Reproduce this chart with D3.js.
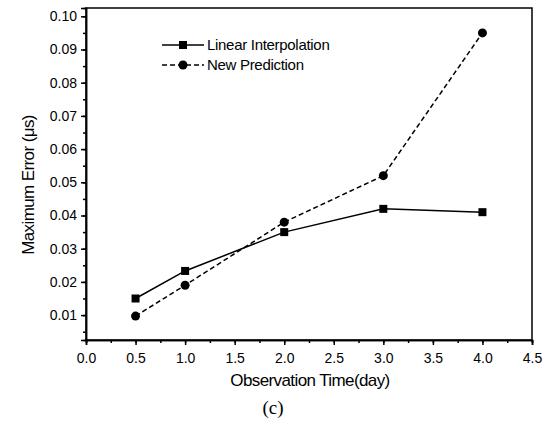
<!DOCTYPE html>
<html>
<head>
<meta charset="utf-8">
<script src="https://cdn.jsdelivr.net/npm/d3@7"></script>
<style>
  body { margin: 0; background: #fff; }
  svg { display: block; }
  .axis path, .axis line { stroke: #000; stroke-width: 1.5; }
  .axis text { font-family: "Liberation Sans", Arial, sans-serif; font-size: 14px; fill: #000; }
  .lbl { font-family: "Liberation Sans", Arial, sans-serif; fill: #000; }
</style>
</head>
<body>
<div id="chart"></div>
<script>
// observation time (day)
var days = [0.5, 1.0, 2.0, 3.0, 4.0];
// maximum error (us)
var linearInterp = [0.015, 0.0233, 0.035, 0.042, 0.041];
var newPrediction = [0.0097, 0.019, 0.038, 0.052, 0.095];

var seriesNames = ["Linear Interpolation", "New Prediction"];
var xTicks = [0.0, 0.5, 1.0, 1.5, 2.0, 2.5, 3.0, 3.5, 4.0, 4.5];
var yTicks = [0.01, 0.02, 0.03, 0.04, 0.05, 0.06, 0.07, 0.08, 0.09, 0.10];

var margin = {left: 86, top: 8, right: 13, bottom: 91};
var W = 545, H = 431;
var width = W - margin.left - margin.right,
    height = H - margin.top - margin.bottom;

var svg = d3.select("#chart").append("svg")
  .attr("width", W)
  .attr("height", H);

var g = svg.append("g")
  .attr("transform", "translate(" + margin.left + "," + margin.top + ")");

var x = d3.scaleLinear().domain([0, 4.5]).range([0, width]);
var y = d3.scaleLinear().domain([0.0025, 0.1025]).range([height, 0]);

// minor ticks
g.append("g")
  .attr("class", "axis")
  .attr("transform", "translate(0," + height + ")")
  .call(d3.axisBottom(x).tickValues(d3.range(0, 4.51, 0.25)).tickSize(3).tickFormat(""));
g.append("g")
  .attr("class", "axis")
  .call(d3.axisLeft(y).tickValues(d3.range(0.005, 0.1026, 0.005)).tickSize(3).tickFormat(""));

// major ticks
g.append("g")
  .attr("class", "axis")
  .attr("transform", "translate(0," + height + ")")
  .call(d3.axisBottom(x).tickValues(xTicks).tickSize(5).tickPadding(8).tickFormat(d3.format(".1f")));
g.append("g")
  .attr("class", "axis")
  .call(d3.axisLeft(y).tickValues(yTicks).tickSize(5).tickPadding(4).tickFormat(d3.format(".2f")));

// frame
g.append("rect")
  .attr("width", width)
  .attr("height", height)
  .attr("fill", "none")
  .attr("stroke", "#000")
  .attr("stroke-width", 1.5);

var line = d3.line()
  .x(function(d) { return x(d[0]); })
  .y(function(d) { return y(d[1]); });

var d1 = days.map(function(d, i) { return [d, linearInterp[i]]; });
var d2 = days.map(function(d, i) { return [d, newPrediction[i]]; });

g.append("path")
  .datum(d2)
  .attr("d", line)
  .attr("fill", "none")
  .attr("stroke", "#000")
  .attr("stroke-width", 1.5)
  .attr("stroke-dasharray", "5,3");

g.append("path")
  .datum(d1)
  .attr("d", line)
  .attr("fill", "none")
  .attr("stroke", "#000")
  .attr("stroke-width", 1.5);

g.selectAll("rect.sq")
  .data(d1)
  .enter().append("rect")
  .attr("class", "sq")
  .attr("x", function(d) { return x(d[0]) - 4; })
  .attr("y", function(d) { return y(d[1]) - 4; })
  .attr("width", 8)
  .attr("height", 8)
  .attr("fill", "#000");

g.selectAll("circle.pt")
  .data(d2)
  .enter().append("circle")
  .attr("class", "pt")
  .attr("cx", function(d) { return x(d[0]); })
  .attr("cy", function(d) { return y(d[1]); })
  .attr("r", 4.5)
  .attr("fill", "#000");

// legend
var legend = svg.append("g").attr("transform", "translate(162,45)");
legend.append("line")
  .attr("x1", 0).attr("x2", 42).attr("y1", 0).attr("y2", 0)
  .attr("stroke", "#000").attr("stroke-width", 1.5);
legend.append("rect")
  .attr("x", 17).attr("y", -4).attr("width", 8).attr("height", 8).attr("fill", "#000");
legend.append("line")
  .attr("x1", 0).attr("x2", 42).attr("y1", 20).attr("y2", 20)
  .attr("stroke", "#000").attr("stroke-width", 1.5).attr("stroke-dasharray", "5,3");
legend.append("circle")
  .attr("cx", 21).attr("cy", 20).attr("r", 4.5).attr("fill", "#000");
legend.selectAll("text")
  .data(seriesNames)
  .enter().append("text")
  .attr("class", "lbl")
  .attr("x", 45)
  .attr("y", function(d, i) { return i * 20; })
  .attr("dy", "0.35em")
  .attr("font-size", "15px")
  .attr("letter-spacing", "-0.3px")
  .text(function(d) { return d; });

// axis titles
svg.append("text")
  .attr("class", "lbl")
  .attr("text-anchor", "middle")
  .attr("x", 310)
  .attr("y", 386)
  .attr("font-size", "17px")
  .attr("letter-spacing", "-0.6px")
  .text("Observation Time(day)");

svg.append("text")
  .attr("class", "lbl")
  .attr("text-anchor", "middle")
  .attr("transform", "translate(34,185)rotate(-90)")
  .attr("font-size", "17px")
  .attr("letter-spacing", "-0.6px")
  .text("Maximum Error (\u03bcs)");

svg.append("text")
  .attr("text-anchor", "middle")
  .attr("x", 273)
  .attr("y", 414)
  .attr("font-family", "'Liberation Serif', 'Times New Roman', serif")
  .attr("font-size", "19px")
  .text("(c)");
</script>
</body>
</html>
